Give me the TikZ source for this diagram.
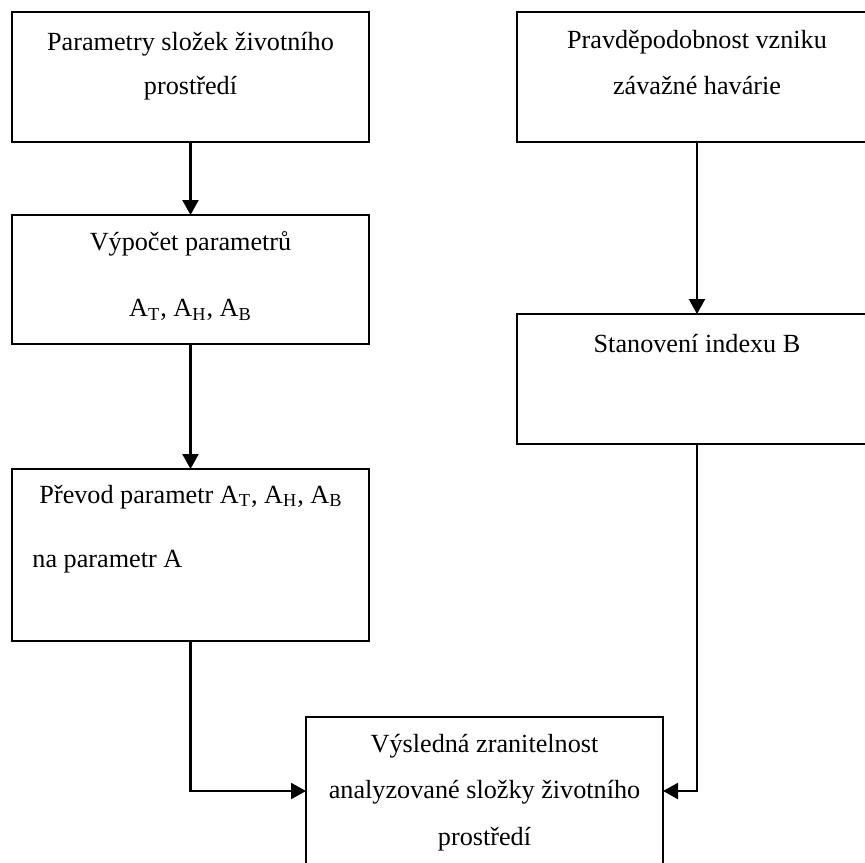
\documentclass[tikz,border=0pt]{standalone}
\usepackage{fontspec}
\setmainfont{Liberation Serif}
\usetikzlibrary{arrows.meta}
\begin{document}
\begin{tikzpicture}[x=0.5pt,y=-0.5pt,
  box/.style={draw=black, line width=0.85pt, rectangle, inner sep=0pt, outer sep=0pt, anchor=north west},
  txt/.style={anchor=base, inner sep=0pt, font=\fontsize{13.1}{15}\selectfont},
  flow/.style={draw=black, line width=1.1pt, -{Triangle[length=7.5pt,width=8pt]}}]
\useasboundingbox (0,0) rectangle (865,862);
% boxes
\node[box, minimum width=178.5pt, minimum height=65pt] (b1) at (12,12) {};
\node[box, minimum width=180pt, minimum height=65pt] (b2) at (517,12) {};
\node[box, minimum width=178.5pt, minimum height=64.5pt] (b3) at (12,215) {};
\node[box, minimum width=180pt, minimum height=65pt] (b4) at (517,314) {};
\node[box, minimum width=178.5pt, minimum height=86pt] (b5) at (12,469) {};
\node[box, minimum width=178.5pt, minimum height=74pt] (b6) at (306,717) {};
% texts
\node[txt] (t1a) at (190.5,50) {Parametry složek životního};
\node[txt] (t1b) at (190.5,94) {prostředí};
\node[txt] (t2a) at (697,48.5) {Pravděpodobnost vzniku};
\node[txt] (t2b) at (697,94) {závažné havárie};
\node[txt] (t3a) at (190.5,250) {Výpočet parametrů};
\node[txt] (t3b) at (190.5,316.5) {A\textsubscript{T}, A\textsubscript{H}, A\textsubscript{B}};
\node[txt] (t4) at (697,352) {Stanovení indexu B};
\node[txt] (t5a) at (191,503) {Převod parametr A\textsubscript{T}, A\textsubscript{H}, A\textsubscript{B}};
\node[txt, anchor=base west] (t5b) at (32,567) {na parametr A};
\node[txt] (t6a) at (484.5,752) {Výsledná zranitelnost};
\node[txt] (t6b) at (484.5,798) {analyzované složky životního};
\node[txt] (t6c) at (484.5,845) {prostředí};
% connectors
\draw[flow] (b1.south) -- (b3.north);
\draw[flow] (b3.south) -- (b5.north);
\draw[flow] (b2.south) -- (b4.north);
\draw[flow] (b5.south) |- (b6.west);
\draw[flow] (b4.south) |- (b6.east);
\end{tikzpicture}
\end{document}
